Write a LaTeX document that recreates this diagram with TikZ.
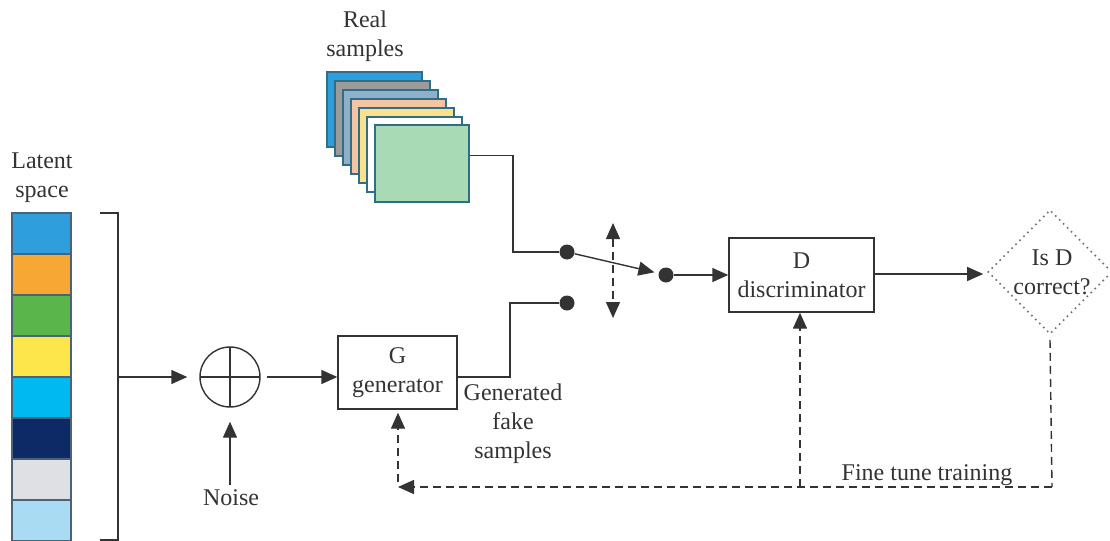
\documentclass[tikz,border=0pt]{standalone}
\usepackage{fontspec}
\setmainfont{Liberation Serif}
\usetikzlibrary{arrows.meta,shapes.geometric}
\definecolor{ink}{HTML}{333333}
\definecolor{cellline}{HTML}{4A6378}
\definecolor{cardline}{HTML}{2F6E84}
\begin{document}
\begin{tikzpicture}[x=0.5pt,y=-0.5pt,
  font=\fontsize{12}{14.5}\selectfont, text=ink,
  wire/.style={draw=ink, line width=0.7pt},
  tip/.style={-{Triangle[length=8pt,width=7pt]}},
  arr/.style={wire, tip},
  fb/.style={arr, dash pattern=on 4pt off 2.5pt},
  box/.style={draw=ink, line width=0.7pt, rectangle, inner sep=0pt, align=center},
  dot/.style={circle, fill=ink, inner sep=0pt, minimum size=7.5pt},
  cell/.style={draw=cellline, line width=0.6pt},
  card/.style={draw=cardline, line width=0.7pt},
  lbl/.style={align=center, inner sep=0pt}]
\useasboundingbox (0,0) rectangle (1110,541);

% latent space colour bar
\node[lbl] (lat) at (42,178) {Latent\\space};
\foreach \c [count=\i from 0] in {2E9FDC,F7A734,5AB54B,FDE64B,00B9F1,0D2A66,DFE0E4,A9DCF2}{
  \definecolor{tmp}{HTML}{\c}
  \filldraw[cell, fill=tmp] (12,213+41*\i) rectangle (71,254+41*\i);
}
% bracket gathering the latent vector
\draw[wire] (100,213) -- (118,213) -- (118,540) -- (100,540);
\coordinate (brk) at (118,377);

% summing junction
\node[circle, draw=ink, line width=0.7pt, minimum size=30pt, inner sep=0pt,
  path picture={\draw[ink, line width=0.6pt]
    (path picture bounding box.north) -- (path picture bounding box.south)
    (path picture bounding box.west) -- (path picture bounding box.east);}]
  (sum) at (230,377) {};
\node[lbl] (noise) at (231,498) {Noise};
\coordinate (nz) at (230,485);

% generator and discriminator
\node[box, minimum width=59.5pt, minimum height=36.5pt] (gen) at (397.5,372.5) {G\\generator};
\node[box, minimum width=72.5pt, minimum height=37pt] (disc) at (801.5,275) {D\\discriminator};

% decision diamond
\node[diamond, draw=ink!70, dotted, line width=0.8pt, minimum width=62pt, minimum height=62pt, inner sep=0pt] (dec) at (1050,272) {};
\node[lbl] (dect) at (1052,272) {Is D\\correct?};

% stack of real samples
\foreach \c [count=\i from 0] in {2E9FDC,9B9B9B,8FB0C8,F5C4A3,FBE08E,FFFFFF}{
  \definecolor{tmp}{HTML}{\c}
  \filldraw[card, fill=tmp] (327+8*\i,72+9*\i) rectangle (422+8*\i,147+9*\i);
}
\node[card, fill={rgb,255:red,168;green,219;blue,181}, minimum width=47pt, minimum height=38.5pt, inner sep=0pt] (rs) at (422,163.5) {};
\node[lbl] (real) at (365,36) {Real\\samples};

% switch contacts
\node[dot] (s1) at (567,252) {};
\node[dot] (s2) at (567,303) {};
\node[dot] (s3) at (666,275) {};
\coordinate (rbend) at (513,252);
\coordinate (gbend) at (510,303);
\coordinate (vt) at (613,223);
\coordinate (vb) at (613,318);

% signal path
\draw[arr, shorten >=6pt] (brk) -- (sum);
\draw[arr, shorten >=7pt] (nz) -- (sum);
\draw[arr, shorten <=3pt] (sum) -- (sum -| gen.west);
\draw[wire] (gen.east |- 0,377) -| (gbend) -- (s2);
\draw[wire] ([yshift=4pt]rs.east) -| (rbend) -- (s1);
\draw[arr, shorten >=2pt] (s1) -- (s3);
\draw[arr] (s3) -- (disc.west |- s3);
\draw[arr, shorten >=2pt] (disc.east |- 0,274) -- (dec.west |- 0,274);
\draw[wire, {Triangle[length=8pt,width=7pt]}-{Triangle[length=8pt,width=7pt]}, dash pattern=on 4pt off 2.5pt] (vt) -- (vb);

% fine tune feedback
\node[lbl, anchor=base] (ft) at (927,480) {Fine tune training};
\coordinate (fc) at (1052,487);
\coordinate (fm) at (800,487);
\coordinate (fl) at (398,487);
\draw[wire, dash pattern=on 4pt off 2.5pt] ([yshift=-2.5pt]dec.south) -- (fc);
\draw[fb] (fc) -- (fl);
\draw[fb] (fm) -- (fm |- disc.south);
\draw[fb, shorten >=1.5pt] ([yshift=2.5pt]fl) -- (fl |- gen.south);

\node[lbl] (gfs) at (513,424) {Generated\\fake\\samples};
\end{tikzpicture}
\end{document}
